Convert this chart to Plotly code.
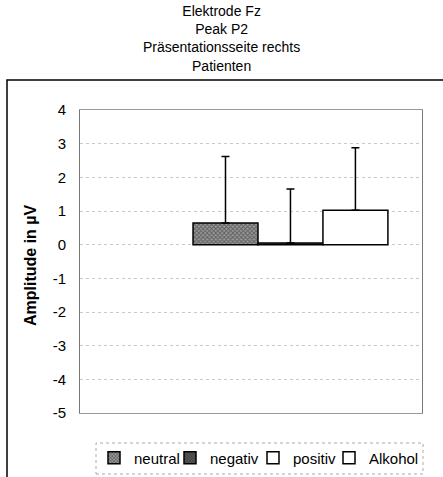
import plotly.graph_objects as go

series = ["neutral", "negativ", "positiv", "Alkohol"]
values = [0.64, 0.05, 1.02, None]
err_plus = [1.98, 1.60, 1.86, None]
category = [0]
title_lines = ["Elektrode Fz", "Peak P2", "Präsentationsseite rechts", "Patienten"]
y_ticks = [4, 3, 2, 1, 0, -1, -2, -3, -4, -5]

styles = {
    "neutral": dict(color="#8a8a8a", lw=31,
                    pattern=dict(shape="x", fgcolor="#222", bgcolor="#999", size=3, solidity=0.5)),
    "negativ": dict(color="#555", lw=38,
                    pattern=dict(shape="x", fgcolor="#111", bgcolor="#666", size=3, solidity=0.6)),
    "positiv": dict(color="white", lw=31, pattern=None),
    "Alkohol": dict(color="white", lw=50, pattern=None),
}

fig = go.Figure()
for name, v, e in zip(series, values, err_plus):
    st = styles[name]
    marker = dict(color=st["color"], line=dict(color="black", width=1.5))
    if st["pattern"]:
        marker["pattern"] = st["pattern"]
    fig.add_trace(go.Bar(
        name=name, x=category, y=[v],
        marker=marker, legendwidth=st["lw"],
        error_y=dict(type="data", symmetric=False, array=[e], arrayminus=[0],
                     color="black", thickness=1.5, width=4),
    ))

fig.update_layout(
    width=443, height=477,
    margin=dict(l=80, r=21, t=110, b=64),
    paper_bgcolor="white", plot_bgcolor="white",
    barmode="group", bargap=0.2, bargroupgap=0,
    font=dict(family="Liberation Sans, Arial, sans-serif", size=13, color="black"),
    showlegend=True,
    legend=dict(orientation="h", xref="container", yref="container",
                x=259 / 443, xanchor="center", y=1 - 458 / 477, yanchor="middle",
                font=dict(size=15), itemwidth=30, entrywidthmode="pixels",
                tracegroupgap=0, bgcolor="rgba(0,0,0,0)", borderwidth=0),
    xaxis=dict(range=[-0.748, 0.305], showticklabels=False, showgrid=False, zeroline=False,
               showline=True, linecolor="#999", linewidth=1, mirror=True, ticks=""),
    yaxis=dict(range=[-5, 4], tickvals=y_ticks, ticktext=[str(t) for t in y_ticks],
               showgrid=True, gridcolor="#c8c8c8", griddash="dot", gridwidth=1,
               zeroline=False, showline=True, linecolor="#777", linewidth=1, mirror=True,
               ticks="", ticklabelstandoff=10, tickfont=dict(size=15)),
)

fig.add_annotation(text="<br>".join(title_lines), xref="paper", yref="paper",
                   x=(221 - 80) / 342, y=(413 - 39) / 303, xanchor="center", yanchor="middle",
                   showarrow=False, font=dict(size=14), align="center")

fig.add_annotation(text="<b>Amplitude in µV</b>", xref="paper", yref="paper",
                   x=(30 - 80) / 342, y=(413 - 265) / 303, textangle=-90,
                   showarrow=False, font=dict(size=16), xanchor="center", yanchor="middle")

# outer chart frame
fig.add_shape(type="rect", xref="paper", yref="paper",
              x0=(7 - 80) / 342, x1=(446 - 80) / 342,
              y0=(413 - 482) / 303, y1=(413 - 80) / 303,
              line=dict(color="black", width=1.5), layer="below")
# legend frame
fig.add_shape(type="rect", xref="paper", yref="paper",
              x0=(96 - 80) / 342, x1=(423 - 80) / 342,
              y0=(413 - 474) / 303, y1=(413 - 443) / 303,
              line=dict(color="#aaa", width=1, dash="dot"))

fig.write_html("out.html")
